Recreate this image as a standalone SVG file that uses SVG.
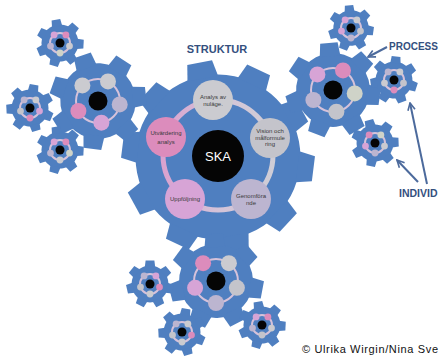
<svg xmlns="http://www.w3.org/2000/svg" width="440" height="356" viewBox="0 0 440 356">
<defs>
<style>
.gear{fill:#4f7fc0}
.lbl{font-family:"Liberation Sans",Arial,sans-serif;font-size:6px;fill:#3a3a3a;text-anchor:middle}
.title{font-family:"Liberation Sans",Arial,sans-serif;font-weight:bold;fill:#34507e}
.arrow{stroke:#4c6a9c;stroke-width:2;fill:none;marker-end:url(#ah)}
.ring{fill:none;stroke:#d6c2da;stroke-width:2}
.blk{fill:#050505}
.g1{fill:#cbcbd0}.g2{fill:#c4c4cb}.lv{fill:#bcb5d0}.pk{fill:#d7a4d6}.pp{fill:#dc8cbc}.gg{fill:#cfd3c8}
</style>
<linearGradient id="ringgrad" x1="0" y1="0" x2="1" y2="0">
<stop offset="0" stop-color="#d9a2cf"/><stop offset="0.5" stop-color="#d4c3d8"/><stop offset="1" stop-color="#cfcdd6"/>
</linearGradient>
<marker id="ah" viewBox="0 0 10 10" refX="9" refY="5" markerWidth="9" markerHeight="9" markerUnits="userSpaceOnUse" orient="auto"><path d="M1,1 L9,5 L1,9" fill="none" stroke="#4c6a9c" stroke-width="1.8"/></marker>
<polygon id="t10" points="82.5,-16 99.1,-13 99.1,13 82.5,16"/>
<g id="gear10"><circle r="85"/><use href="#t10"/><use href="#t10" transform="rotate(36)"/><use href="#t10" transform="rotate(72)"/><use href="#t10" transform="rotate(108)"/><use href="#t10" transform="rotate(144)"/><use href="#t10" transform="rotate(180)"/><use href="#t10" transform="rotate(216)"/><use href="#t10" transform="rotate(252)"/><use href="#t10" transform="rotate(288)"/><use href="#t10" transform="rotate(324)"/></g>
<polygon id="t7" points="70.5,-21.5 98.3,-18.2 98.3,18.2 70.5,21.5"/>
<g id="gear7"><circle r="77"/><use href="#t7"/><use href="#t7" transform="rotate(51.43)"/><use href="#t7" transform="rotate(102.86)"/><use href="#t7" transform="rotate(154.29)"/><use href="#t7" transform="rotate(205.71)"/><use href="#t7" transform="rotate(257.14)"/><use href="#t7" transform="rotate(308.57)"/></g>
</defs>
<rect width="440" height="356" fill="#ffffff"/>

<!-- main gear -->
<g id="main-gear">
<use href="#gear10" class="gear" transform="translate(218,157) rotate(-101) scale(0.97)"/>
<circle cx="218" cy="155" r="55" fill="none" stroke="url(#ringgrad)" stroke-width="5"/>
</g>
<g id="node-ska"><circle class="blk" cx="218" cy="156" r="26"/><text x="218" y="161" font-family="Liberation Sans,Arial,sans-serif" font-size="13" fill="#ffffff" text-anchor="middle">SKA</text></g>
<g id="node-analys"><circle class="g1" cx="213" cy="100" r="20"/><text class="lbl" x="213" y="98.5">Analys av</text><text class="lbl" x="213" y="106">nuläge.</text></g>
<g id="node-vision"><circle class="g2" cx="270" cy="138" r="20"/><text class="lbl" x="270" y="133">Vision och</text><text class="lbl" x="270" y="139.5">målformule</text><text class="lbl" x="270" y="146">ring</text></g>
<g id="node-genomforande"><circle class="lv" cx="251" cy="199" r="20"/><text class="lbl" x="251" y="198">Genomföra</text><text class="lbl" x="251" y="205">nde</text></g>
<g id="node-uppfoljning"><circle class="pk" cx="185" cy="199" r="20"/><text class="lbl" x="185" y="201">Uppföljning</text></g>
<g id="node-utvardering"><circle class="pp" cx="166" cy="137" r="20"/><text class="lbl" x="166" y="135">Utvärdering</text><text class="lbl" x="166" y="143.5">analys</text></g>

<!-- medium gears -->
<g id="gear-left" transform="translate(98,101)">
<use href="#gear7" class="gear" transform="rotate(-109) scale(0.49)"/>
<circle class="ring" r="22"/>
<circle class="g1" cx="-15.6" cy="-15.6" r="8"/><circle class="g1" cx="10" cy="-19.6" r="8"/><circle class="lv" cx="21.7" cy="3.4" r="8"/><circle class="pk" cx="3.4" cy="21.7" r="8"/><circle class="pp" cx="-19.6" cy="10" r="8"/>
<circle class="blk" r="9.5"/>
</g>
<g id="gear-right" transform="translate(333,90)">
<use href="#gear7" class="gear" transform="rotate(-95) scale(0.48)"/>
<circle class="ring" r="22"/>
<circle class="pk" cx="-15.6" cy="-15.6" r="8"/><circle class="pp" cx="10" cy="-19.6" r="8"/><circle class="gg" cx="21.7" cy="3.4" r="8"/><circle class="g2" cx="3.4" cy="21.7" r="8"/><circle class="lv" cx="-19.6" cy="10" r="8"/>
<circle class="blk" r="9.5"/>
</g>
<g id="gear-bottom" transform="translate(216,281)">
<use href="#gear7" class="gear" transform="rotate(-92) scale(0.48)"/>
<circle class="ring" r="22"/>
<circle class="pp" cx="-12.9" cy="-17.8" r="8"/><circle class="g1" cx="12.9" cy="-17.8" r="8"/><circle class="g2" cx="20.9" cy="6.8" r="8"/><circle class="lv" cx="0" cy="22" r="8"/><circle class="pk" cx="-20.9" cy="6.8" r="8"/>
<circle class="blk" r="9.5"/>
</g>

<!-- small gears -->
<g id="small-1" transform="translate(60,43)">
<use href="#gear7" class="gear" transform="rotate(-100) scale(0.24)"/>
<circle class="ring" r="10" stroke-width="1.2"/>
<circle class="pk" cx="-5.9" cy="-8.1" r="3.4"/><circle class="pp" cx="5.9" cy="-8.1" r="3.4"/><circle class="g1" cx="9.5" cy="3.1" r="3.4"/><circle class="gg" cx="0" cy="10" r="3.4"/><circle class="lv" cx="-9.5" cy="3.1" r="3.4"/>
<circle class="blk" r="4.5"/>
</g>
<g id="small-2" transform="translate(30,108)">
<use href="#gear7" class="gear" transform="rotate(-80) scale(0.24)"/>
<circle class="ring" r="10" stroke-width="1.2"/>
<circle class="lv" cx="-5.9" cy="-8.1" r="3.4"/><circle class="g1" cx="5.9" cy="-8.1" r="3.4"/><circle class="pk" cx="9.5" cy="3.1" r="3.4"/><circle class="pp" cx="0" cy="10" r="3.4"/><circle class="g2" cx="-9.5" cy="3.1" r="3.4"/>
<circle class="blk" r="4.5"/>
</g>
<g id="small-3" transform="translate(60,150)">
<use href="#gear7" class="gear" transform="rotate(-100) scale(0.24)"/>
<circle class="ring" r="10" stroke-width="1.2"/>
<circle class="pk" cx="-5.9" cy="-8.1" r="3.4"/><circle class="pp" cx="5.9" cy="-8.1" r="3.4"/><circle class="gg" cx="9.5" cy="3.1" r="3.4"/><circle class="g1" cx="0" cy="10" r="3.4"/><circle class="lv" cx="-9.5" cy="3.1" r="3.4"/>
<circle class="blk" r="4.5"/>
</g>
<g id="small-4" transform="translate(351,28)">
<use href="#gear7" class="gear" transform="rotate(-95) scale(0.23)"/>
<circle class="ring" r="10" stroke-width="1.2"/>
<circle class="pk" cx="-5.9" cy="-8.1" r="3.4"/><circle class="g1" cx="5.9" cy="-8.1" r="3.4"/><circle class="g2" cx="9.5" cy="3.1" r="3.4"/><circle class="lv" cx="0" cy="10" r="3.4"/><circle class="pk" cx="-9.5" cy="3.1" r="3.4"/>
<circle class="blk" r="4.5"/>
</g>
<g id="small-5" transform="translate(394,80)">
<use href="#gear7" class="gear" transform="rotate(-85) scale(0.24)"/>
<circle class="ring" r="10" stroke-width="1.2"/>
<circle class="lv" cx="-5.9" cy="-8.1" r="3.4"/><circle class="g1" cx="5.9" cy="-8.1" r="3.4"/><circle class="g2" cx="9.5" cy="3.1" r="3.4"/><circle class="pp" cx="0" cy="10" r="3.4"/><circle class="g1" cx="-9.5" cy="3.1" r="3.4"/>
<circle class="blk" r="4.5"/>
</g>
<g id="small-6" transform="translate(375,143)">
<use href="#gear7" class="gear" transform="rotate(-105) scale(0.24)"/>
<circle class="ring" r="10" stroke-width="1.2"/>
<circle class="pp" cx="-5.9" cy="-8.1" r="3.4"/><circle class="gg" cx="5.9" cy="-8.1" r="3.4"/><circle class="g1" cx="9.5" cy="3.1" r="3.4"/><circle class="lv" cx="0" cy="10" r="3.4"/><circle class="pk" cx="-9.5" cy="3.1" r="3.4"/>
<circle class="blk" r="4.5"/>
</g>
<g id="small-7" transform="translate(150,284)">
<use href="#gear7" class="gear" transform="rotate(-90) scale(0.24)"/>
<circle class="ring" r="10" stroke-width="1.2"/>
<circle class="lv" cx="-5.9" cy="-8.1" r="3.4"/><circle class="pk" cx="5.9" cy="-8.1" r="3.4"/><circle class="pp" cx="9.5" cy="3.1" r="3.4"/><circle class="g1" cx="0" cy="10" r="3.4"/><circle class="g2" cx="-9.5" cy="3.1" r="3.4"/>
<circle class="blk" r="4.5"/>
</g>
<g id="small-8" transform="translate(182,332)">
<use href="#gear7" class="gear" transform="rotate(-80) scale(0.24)"/>
<circle class="ring" r="10" stroke-width="1.2"/>
<circle class="lv" cx="-5.9" cy="-8.1" r="3.4"/><circle class="g1" cx="5.9" cy="-8.1" r="3.4"/><circle class="pp" cx="9.5" cy="3.1" r="3.4"/><circle class="g1" cx="0" cy="10" r="3.4"/><circle class="g2" cx="-9.5" cy="3.1" r="3.4"/>
<circle class="blk" r="4.5"/>
</g>
<g id="small-9" transform="translate(262,325)">
<use href="#gear7" class="gear" transform="rotate(-100) scale(0.24)"/>
<circle class="ring" r="10" stroke-width="1.2"/>
<circle class="pk" cx="-5.9" cy="-8.1" r="3.4"/><circle class="pp" cx="5.9" cy="-8.1" r="3.4"/><circle class="g1" cx="9.5" cy="3.1" r="3.4"/><circle class="g2" cx="0" cy="10" r="3.4"/><circle class="lv" cx="-9.5" cy="3.1" r="3.4"/>
<circle class="blk" r="4.5"/>
</g>

<!-- connectors -->
<g id="connectors">
<line class="arrow" x1="387" y1="47" x2="368" y2="57"/>
<line class="arrow" x1="427" y1="184" x2="410" y2="103"/>
<line class="arrow" x1="418" y1="182" x2="397" y2="160"/>
</g>

<!-- labels -->
<text class="title" x="217" y="53" font-size="11" text-anchor="middle">STRUKTUR</text>
<text class="title" x="389" y="50" font-size="10">PROCESS</text>
<text class="title" x="399" y="197" font-size="10.5">INDIVID</text>
<text x="302" y="353" font-family="Liberation Sans,Arial,sans-serif" font-size="11" fill="#111111" textLength="136">© Ulrika Wirgin/Nina Sve</text>
</svg>
